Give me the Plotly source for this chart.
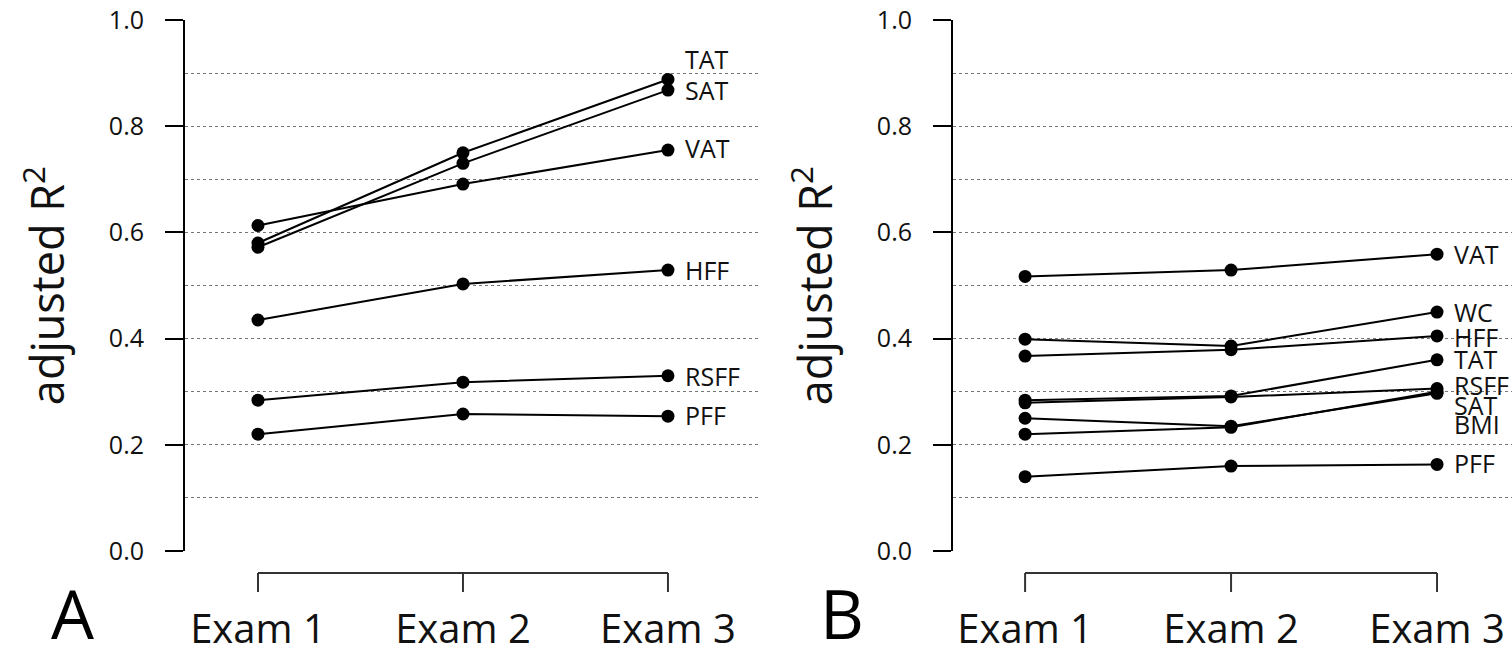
import plotly.graph_objects as go

# ---------------- data ----------------
exams = ["Exam 1", "Exam 2", "Exam 3"]
x_pos = [1, 2, 3]

# Panel A
a_names = ["TAT", "SAT", "VAT", "HFF", "RSFF", "PFF"]
a_TAT = [0.580, 0.750, 0.888]
a_SAT = [0.572, 0.730, 0.868]
a_VAT = [0.613, 0.691, 0.755]
a_HFF = [0.435, 0.503, 0.529]
a_RSFF = [0.284, 0.318, 0.330]
a_PFF = [0.220, 0.258, 0.254]

# Panel B
b_names = ["VAT", "WC", "HFF", "TAT", "RSFF", "SAT", "BMI", "PFF"]
b_VAT = [0.517, 0.529, 0.559]
b_WC = [0.399, 0.386, 0.450]
b_HFF = [0.367, 0.379, 0.405]
b_TAT = [0.284, 0.292, 0.360]
b_RSFF = [0.279, 0.290, 0.306]
b_SAT = [0.250, 0.235, 0.297]
b_BMI = [0.220, 0.233, 0.300]
b_PFF = [0.140, 0.160, 0.163]

y_ticks = [0.0, 0.2, 0.4, 0.6, 0.8, 1.0]
panel_letters = ["A", "B"]

a_series = [a_TAT, a_SAT, a_VAT, a_HFF, a_RSFF, a_PFF]
b_series = [b_VAT, b_WC, b_HFF, b_TAT, b_RSFF, b_SAT, b_BMI, b_PFF]

# ---------------- styling ----------------
W, H = 1512, 647
TOP, BOTTOM = 20, 96
PH = H - TOP - BOTTOM
FONT = "Open Sans, Segoe UI, DejaVu Sans, sans-serif"
INK = "#111111"
GRID = "#777777"

# label vertical nudges (px) to avoid overlaps
a_shift = {"TAT": 20, "SAT": 0, "VAT": 2, "HFF": 0, "RSFF": 0, "PFF": 1}
b_shift = {"VAT": 0, "WC": 0, "HFF": -1, "TAT": 1, "RSFF": 4, "SAT": -12, "BMI": -32, "PFF": 1}

fig = go.Figure()
annotations = []
shapes = []


def add_panel(names, series, shifts, xa, ya, xref):
    for name, vals in zip(names, series):
        fig.add_trace(go.Scatter(
            x=x_pos, y=vals, mode="lines+markers", name=name,
            line=dict(color="black", width=2),
            marker=dict(color="black", size=13),
            xaxis=xa, yaxis=ya, showlegend=False, cliponaxis=False,
        ))
        annotations.append(dict(
            x=x_pos[-1], y=vals[-1], xref=xref, yref=ya,
            text=name, showarrow=False, xanchor="left", yanchor="middle",
            xshift=15, yshift=shifts[name],
            font=dict(family=FONT, size=25, color=INK),
        ))
    # bracket-style x axis
    yb0 = -22 / PH
    yb1 = -41 / PH
    shapes.append(dict(type="line", xref=xref, yref="paper",
                       x0=x_pos[0], x1=x_pos[-1], y0=yb0, y1=yb0,
                       line=dict(color="#333333", width=2)))
    for xv in x_pos:
        shapes.append(dict(type="line", xref=xref, yref="paper",
                           x0=xv, x1=xv, y0=yb0, y1=yb1,
                           line=dict(color="#333333", width=2)))


add_panel(a_names, a_series, a_shift, "x", "y", "x")
add_panel(b_names, b_series, b_shift, "x2", "y2", "x2")

# panel letters
for letter, xpx in zip(panel_letters, [72, 842]):
    annotations.append(dict(
        x=xpx / W, y=(551 - 613) / PH, xref="paper", yref="paper",
        text=letter, showarrow=False, xanchor="center", yanchor="middle",
        font=dict(family=FONT, size=68, color="black"),
    ))


def xaxis_cfg(domain, rng, anchor):
    return dict(
        domain=domain, range=rng, anchor=anchor,
        tickmode="array", tickvals=x_pos, ticktext=exams,
        showgrid=False, zeroline=False, showline=False, ticks="",
        tickfont=dict(family=FONT, size=40, color=INK),
        ticklabelstandoff=51, automargin=False, fixedrange=True,
    )


def yaxis_cfg(anchor):
    return dict(
        domain=[0, 1], range=[0, 1], anchor=anchor,
        tickmode="array", tickvals=y_ticks,
        ticktext=[f"{v:.1f}" for v in y_ticks],
        showline=True, linecolor="black", linewidth=2,
        ticks="outside", ticklen=18, tickwidth=2, tickcolor="black",
        showgrid=True, gridcolor=GRID, gridwidth=1.2, griddash="dot",
        minor=dict(dtick=0.1, tick0=0, showgrid=True, gridcolor=GRID,
                   gridwidth=1.2, griddash="dot", ticks=""),
        zeroline=False,
        tickfont=dict(family=FONT, size=25, color=INK),
        ticklabelstandoff=16,
        title=dict(text="adjusted R<sup>2</sup>",
                   font=dict(family=FONT, size=45, color=INK), standoff=30),
        automargin=False, fixedrange=True,
    )


fig.update_layout(
    width=W, height=H,
    margin=dict(l=0, r=0, t=TOP, b=BOTTOM, pad=0, autoexpand=False),
    paper_bgcolor="white", plot_bgcolor="white",
    xaxis=xaxis_cfg([185 / W, 760 / W], [0.644, 3.449], "y"),
    yaxis=yaxis_cfg("x"),
    xaxis2=xaxis_cfg([953 / W, 1.0], [0.650, 3.364], "y2"),
    yaxis2=yaxis_cfg("x2"),
    annotations=annotations,
    shapes=shapes,
    font=dict(family=FONT, color=INK),
)

fig.write_html(
    "out.html",
    config={"displayModeBar": False},
    post_script="document.body.style.margin='0';document.body.style.overflow='hidden';",
)
